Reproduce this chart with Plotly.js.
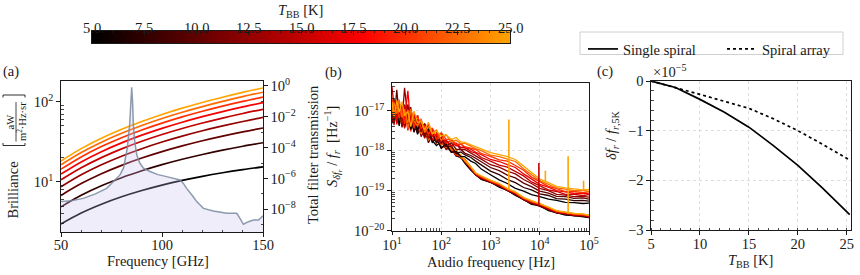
<!DOCTYPE html>
<html><head><meta charset="utf-8">
<script src="https://cdn.plot.ly/plotly-3.0.1.min.js"></script>
<style>html,body{margin:0;padding:0;background:#fff;}#plot{width:860px;height:275px;}</style>
</head><body><div id="plot"></div>
<script>
// ---------------- DATA ----------------
const temperaturesK = [5, 7.5, 10, 12.5, 15, 17.5, 20, 22.5, 25];
const cbTicks = [5, 7.5, 10, 12.5, 15, 17.5, 20, 22.5, 25];
const cbTickText = ['5.0','7.5','10.0','12.5','15.0','17.5','20.0','22.5','25.0'];

// (a) brilliance [aW / (m^2 Hz sr)]
const bbFreqGHz = [50, 60, 70, 80, 90, 100, 110, 120, 130, 140, 150];
const bril_5K    = [2.99, 4.09, 5.27, 6.53, 7.82, 9.14, 10.46, 11.76, 13.03, 14.26, 15.44];
const bril_7p5K  = [4.88, 6.80, 8.94, 11.28, 13.78, 16.43, 19.19, 22.03, 24.93, 27.88, 30.84];
const bril_10K   = [6.79, 9.53, 12.65, 16.11, 19.87, 23.91, 28.18, 32.68, 37.35, 42.18, 47.14];
const bril_12p5K = [8.70, 12.28, 16.38, 20.97, 26.00, 31.46, 37.30, 43.48, 49.99, 56.77, 63.82];
const bril_15K   = [10.61, 15.03, 20.12, 25.85, 32.17, 39.06, 46.47, 54.37, 62.72, 71.51, 80.69];
const bril_17p5K = [12.52, 17.78, 23.87, 30.73, 38.35, 46.67, 55.66, 65.29, 75.53, 86.34, 97.65];
const bril_20K   = [14.44, 20.53, 27.61, 35.63, 44.54, 54.30, 64.88, 76.25, 88.39, 101.2, 114.7];
const bril_22p5K = [16.36, 23.30, 31.37, 40.53, 50.73, 61.95, 74.13, 87.23, 101.3, 116.1, 131.8];
const bril_25K   = [18.28, 26.05, 35.12, 45.42, 56.91, 69.59, 83.37, 98.24, 114.1, 131.1, 148.9];

// (a) total filter transmission (log10)
const filterFreqGHz = [50, 55, 61, 67, 72.6, 76, 79.2, 81, 82.8, 84, 84.6, 85, 85.5, 85.8, 86.5, 87.5, 89, 90.8, 94.1, 98,
  102.3, 106, 108.9, 110.5, 112.2, 115, 117.2, 120.5, 125.4, 132, 137, 138.6, 140.3, 142.8, 145.3, 147.8, 150];
const filterLog10 = [-7.5, -7.45, -7.29, -7.0, -6.64, -6.2, -5.77, -5.3, -4.04, -2.5, -1.42, -0.08, -1.2, -2.51, -3.6, -4.47, -5.0, -5.33, -5.55, -5.75,
  -5.88, -6.0, -6.1, -6.3, -6.64, -7.1, -7.5, -7.94, -8.11, -8.26, -8.26, -8.58, -8.97, -8.8, -8.7, -8.7, -8.42];

// (b) fractional frequency noise, log10 [Hz^-1]
const audioFreqHz = [10, 11, 12.5, 14, 16, 18, 21, 24, 28, 33, 39, 46, 55, 66, 80, 100, 125, 160, 200, 250, 300,
  400, 500, 650, 1000, 1500, 2200, 3200, 4700, 6800, 10000, 15000, 22000, 33000, 50000, 75000, 100000];
const upper_5K = [-16.76,-17.21,-16.96,-17.38,-16.84,-17.26,-16.99,-17.47,-17.23,-17.49,-17.25,-17.56,-17.47,-17.79,-17.69,-17.94,-17.84,-18.04,-18.02,-18.15,-18.15,
  -18.26,-18.32,-18.46,-18.60,-18.73,-18.82,-18.94,-19.01,-19.10,-19.15,-19.21,-19.24,-19.29,-19.30,-19.32,-19.31];
const upper_7p5K = [-17.13,-16.71,-17.24,-16.94,-17.15,-16.85,-17.33,-17.12,-17.54,-17.21,-17.45,-17.32,-17.69,-17.58,-17.79,-17.67,-17.90,-17.88,-18.07,-18.03,-18.10,
  -18.17,-18.26,-18.35,-18.51,-18.60,-18.72,-18.80,-18.92,-18.98,-19.08,-19.12,-19.20,-19.21,-19.25,-19.24,-19.26];
const upper_10K = [-16.88,-17.27,-16.48,-17.14,-16.90,-17.35,-16.84,-17.32,-17.05,-17.42,-17.32,-17.65,-17.50,-17.51,-17.80,-17.72,-17.89,-17.80,-17.96,-17.97,-18.06,
  -18.12,-18.19,-18.28,-18.42,-18.50,-18.61,-18.68,-18.81,-18.90,-19.01,-19.06,-19.14,-19.15,-19.19,-19.18,-19.21];
const upper_12p5K = [-17.22,-16.86,-17.06,-16.79,-17.27,-16.43,-17.21,-16.91,-17.42,-17.26,-17.54,-17.33,-17.60,-17.45,-17.70,-17.82,-17.74,-17.87,-17.83,-17.97,-17.97,
  -18.05,-18.13,-18.21,-18.35,-18.41,-18.51,-18.58,-18.72,-18.82,-18.94,-19.00,-19.09,-19.11,-19.15,-19.14,-19.16];
const upper_15K = [-16.40,-16.91,-17.23,-16.87,-17.32,-16.87,-17.17,-17.02,-17.35,-17.11,-17.49,-17.38,-17.69,-17.51,-17.53,-17.76,-17.73,-17.89,-17.81,-17.92,-17.92,
  -18.02,-18.06,-18.17,-18.26,-18.36,-18.41,-18.51,-18.63,-18.78,-18.87,-18.98,-19.02,-19.09,-19.09,-19.12,-19.10];
const upper_17p5K = [-17.02,-16.75,-17.25,-16.95,-16.89,-17.25,-16.50,-17.37,-17.10,-17.34,-17.24,-17.53,-17.34,-17.64,-17.58,-17.59,-17.81,-17.74,-17.88,-17.83,-17.93,
  -17.96,-18.04,-18.10,-18.22,-18.27,-18.35,-18.42,-18.58,-18.70,-18.84,-18.91,-19.00,-19.03,-19.07,-19.06,-19.08];
const upper_20K = [-16.65,-17.07,-16.82,-17.18,-16.94,-17.33,-16.97,-17.09,-17.42,-17.11,-17.43,-17.38,-17.59,-17.43,-17.72,-17.55,-17.71,-17.72,-17.84,-17.83,-17.90,
  -17.93,-17.97,-18.07,-18.14,-18.23,-18.26,-18.37,-18.49,-18.66,-18.78,-18.89,-18.95,-19.02,-19.02,-19.05,-19.03];
const upper_22p5K = [-17.12,-16.79,-17.08,-16.72,-17.17,-16.96,-17.32,-16.96,-17.26,-17.38,-17.20,-17.55,-17.40,-17.56,-17.48,-17.74,-17.60,-17.78,-17.74,-17.82,-17.81,
  -17.89,-17.95,-18.00,-18.11,-18.15,-18.21,-18.27,-18.45,-18.59,-18.75,-18.84,-18.93,-18.96,-19.00,-18.99,-19.02];
const upper_25K = [-16.78,-17.17,-16.74,-17.04,-16.77,-17.13,-17.01,-17.40,-17.01,-17.29,-17.27,-17.48,-17.29,-17.58,-17.51,-17.63,-17.60,-17.72,-17.67,-17.78,-17.79,
  -17.85,-17.91,-17.96,-18.05,-18.10,-18.15,-18.22,-18.39,-18.55,-18.71,-18.80,-18.89,-18.93,-18.96,-18.98,-18.97];
const lower_5K = [-17.24,-17.15,-16.87,-17.29,-16.90,-17.41,-17.17,-17.44,-17.23,-17.59,-17.37,-17.62,-17.45,-17.75,-17.87,-17.77,-17.93,-17.91,-18.13,-18.17,-18.31,
  -18.49,-18.60,-18.72,-18.79,-18.91,-18.99,-19.12,-19.22,-19.34,-19.37,-19.50,-19.55,-19.61,-19.62,-19.66,-19.67];
const lower_7p5K = [-17.32,-16.96,-17.25,-16.95,-17.25,-16.92,-17.34,-17.34,-17.13,-17.56,-17.40,-17.59,-17.52,-17.79,-17.62,-17.91,-17.88,-18.01,-18.02,-18.18,-18.24,
  -18.46,-18.61,-18.70,-18.80,-18.88,-19.00,-19.09,-19.23,-19.31,-19.38,-19.47,-19.56,-19.58,-19.63,-19.63,-19.67];
const lower_10K = [-17.17,-16.84,-17.31,-17.07,-17.40,-17.10,-17.28,-17.01,-17.52,-17.36,-17.54,-17.47,-17.80,-17.60,-17.79,-17.79,-17.94,-17.95,-18.13,-18.16,-18.28,
  -18.47,-18.59,-18.71,-18.78,-18.89,-18.98,-19.10,-19.21,-19.33,-19.36,-19.48,-19.54,-19.59,-19.61,-19.64,-19.65];
const lower_12p5K = [-17.28,-16.89,-17.18,-16.82,-17.42,-17.06,-17.39,-17.03,-17.39,-17.25,-17.65,-17.48,-17.71,-17.53,-17.80,-17.72,-17.97,-17.92,-18.09,-18.12,-18.27,
  -18.45,-18.60,-18.68,-18.79,-18.87,-18.99,-19.08,-19.22,-19.30,-19.37,-19.46,-19.55,-19.57,-19.62,-19.62,-19.66];
const lower_15K = [-16.88,-17.36,-16.87,-17.23,-17.08,-17.44,-17.02,-17.35,-17.05,-17.50,-17.42,-17.69,-17.46,-17.71,-17.66,-17.94,-17.85,-18.02,-17.97,-18.17,-18.24,
  -18.44,-18.59,-18.66,-18.78,-18.86,-18.98,-19.06,-19.21,-19.29,-19.35,-19.45,-19.54,-19.56,-19.61,-19.61,-19.65];
const lower_17p5K = [-17.11,-16.78,-17.34,-17.01,-17.31,-16.92,-17.49,-17.13,-17.52,-17.27,-17.53,-17.34,-17.63,-17.74,-17.60,-17.84,-17.81,-18.04,-18.02,-18.17,-18.22,
  -18.43,-18.58,-18.67,-18.76,-18.85,-18.97,-19.06,-19.19,-19.28,-19.34,-19.44,-19.52,-19.56,-19.59,-19.61,-19.63];
const lower_20K = [-16.75,-17.17,-17.01,-17.34,-16.92,-17.31,-17.10,-17.52,-17.13,-17.41,-17.29,-17.64,-17.51,-17.78,-17.67,-17.70,-17.92,-17.93,-18.11,-18.11,-18.25,
  -18.42,-18.57,-18.65,-18.75,-18.84,-18.96,-19.05,-19.18,-19.27,-19.33,-19.43,-19.51,-19.55,-19.58,-19.60,-19.62];
const lower_22p5K = [-16.92,-17.25,-16.79,-17.15,-17.27,-16.97,-17.45,-17.03,-17.42,-17.30,-17.56,-17.41,-17.74,-17.55,-17.74,-17.85,-17.77,-17.98,-17.97,-18.17,-18.21,
  -18.41,-18.56,-18.64,-18.75,-18.83,-18.95,-19.04,-19.18,-19.26,-19.32,-19.42,-19.51,-19.54,-19.58,-19.59,-19.62];
const lower_25K = [-16.79,-17.18,-16.93,-17.35,-16.96,-17.23,-16.93,-17.41,-17.23,-17.23,-17.57,-17.36,-17.65,-17.59,-17.79,-17.65,-17.92,-17.87,-18.04,-18.10,-18.25,
  -18.40,-18.56,-18.63,-18.74,-18.82,-18.95,-19.03,-19.17,-19.25,-19.32,-19.41,-19.50,-19.53,-19.57,-19.58,-19.61];
// narrow spectral lines (log10 bottom/top), with the temperature whose colour they carry
const spikeFreqHz = [2360, 9600, 13000, 37700, 77600];
const spikeLowLog10 = [-18.97, -19.38, -18.80, -19.58, -18.97];
const spikeHighLog10 = [-17.22, -18.31, -18.50, -18.14, -18.75];
const spikeTempK = [25, 15, 25, 25, 25];

// (c) relative frequency shift (units of 1e-5)
const shiftTempK = [5, 7.5, 10, 12.5, 15, 17.5, 20, 22.5, 25.3];
const shiftSingle = [0, -0.13, -0.37, -0.63, -0.93, -1.30, -1.70, -2.15, -2.69];
const shiftArray  = [0, -0.13, -0.27, -0.41, -0.55, -0.76, -1.00, -1.27, -1.59];

// ---------------- STYLE ----------------
const F = 'Liberation Serif';
const FS = 14.5;
const INK = '#1a1a1a';
const W = 860, H = 275;
const px = v => v / W;
const py = v => 1 - v / H;
const cscale = [[0, 'rgb(0,0,0)'], [0.65, 'rgb(255,0,0)'], [1, 'rgb(255,165,0)']];
function tempColor(T) {
  const t = Math.max(0, Math.min(1, (T - 5) / 20));
  const s = [[0, [0,0,0]], [0.65, [255,0,0]], [1, [255,165,0]]];
  for (let i = 0; i < s.length - 1; i++) {
    if (t <= s[i+1][0]) {
      const f = (t - s[i][0]) / (s[i+1][0] - s[i][0]);
      const c = s[i][1].map((v, k) => Math.round(v + f * (s[i+1][1][k] - v)));
      return `rgb(${c[0]},${c[1]},${c[2]})`;
    }
  }
  return 'rgb(255,165,0)';
}
const pow10 = a => a.map(v => Math.pow(10, v));
function logMinor(d0, d1) { const r = []; for (let d = d0; d <= d1; d++) for (let m = 2; m <= 9; m++) r.push(m * Math.pow(10, d)); return r; }

const brilSeries = [bril_5K, bril_7p5K, bril_10K, bril_12p5K, bril_15K, bril_17p5K, bril_20K, bril_22p5K, bril_25K];
const upperSeries = [upper_5K, upper_7p5K, upper_10K, upper_12p5K, upper_15K, upper_17p5K, upper_20K, upper_22p5K, upper_25K];
const lowerSeries = [lower_5K, lower_7p5K, lower_10K, lower_12p5K, lower_15K, lower_17p5K, lower_20K, lower_22p5K, lower_25K];

const traces = [];
brilSeries.forEach((s, i) => traces.push({
  x: bbFreqGHz, y: s, xaxis: 'x', yaxis: 'y', mode: 'lines', line: {color: tempColor(temperaturesK[i]), width: 1.7, shape: 'spline'},
  showlegend: false, hoverinfo: 'skip'
}));
traces.push({x: filterFreqGHz, y: filterFreqGHz.map(() => 1e-12), xaxis: 'x', yaxis: 'y2', mode: 'lines', line: {width: 0, color: 'rgba(0,0,0,0)'}, showlegend: false, hoverinfo: 'skip'});
traces.push({x: filterFreqGHz, y: pow10(filterLog10), xaxis: 'x', yaxis: 'y2', mode: 'lines', fill: 'tonexty', fillcolor: 'rgba(200,190,240,0.28)',
  line: {color: 'rgba(120,138,158,0.85)', width: 1.5}, showlegend: false, hoverinfo: 'skip'});
lowerSeries.forEach((s, i) => traces.push({
  x: audioFreqHz, y: pow10(s), xaxis: 'x2', yaxis: 'y3', mode: 'lines', line: {color: tempColor(temperaturesK[i]), width: 1.3},
  showlegend: false, hoverinfo: 'skip'
}));
upperSeries.forEach((s, i) => traces.push({
  x: audioFreqHz, y: pow10(s), xaxis: 'x2', yaxis: 'y3', mode: 'lines', line: {color: tempColor(temperaturesK[i]), width: 1.3},
  showlegend: false, hoverinfo: 'skip'
}));
spikeFreqHz.forEach((f, i) => traces.push({
  x: [f, f], y: [Math.pow(10, spikeLowLog10[i]), Math.pow(10, spikeHighLog10[i])], xaxis: 'x2', yaxis: 'y3', mode: 'lines',
  line: {color: tempColor(spikeTempK[i]), width: 1.6}, showlegend: false, hoverinfo: 'skip'
}));
traces.push({x: shiftTempK, y: shiftSingle, xaxis: 'x3', yaxis: 'y4', mode: 'lines', name: 'Single spiral', legend: 'legend',
  line: {color: '#000', width: 1.7}});
traces.push({x: shiftTempK, y: shiftArray, xaxis: 'x3', yaxis: 'y4', mode: 'lines', name: 'Spiral array', legend: 'legend2',
  line: {color: '#000', width: 1.7, dash: 'dot'}});
traces.push({type: 'heatmap', x: temperaturesK, y: [0, 1], z: [temperaturesK, temperaturesK], zsmooth: 'best', colorscale: cscale,
  zmin: 5, zmax: 25, showscale: false, xaxis: 'x4', yaxis: 'y5', hoverinfo: 'skip'});

function ax(extra) {
  return Object.assign({showline: true, linecolor: INK, linewidth: 1.2, mirror: true, ticks: 'outside', ticklen: 3.5, tickwidth: 1,
    tickcolor: INK, showgrid: false, zeroline: false, tickfont: {family: F, size: FS, color: INK}, fixedrange: true}, extra);
}
const grid = {showgrid: true, gridcolor: '#d4d4d4', gridwidth: 0.8, griddash: 'dot'};
const minorStyle = {ticks: 'inside', ticklen: 2.5, tickwidth: 0.8, tickcolor: INK};
const legendStyle = {orientation: 'h', xanchor: 'left', yanchor: 'top', bgcolor: 'rgba(0,0,0,0)', borderwidth: 0,
  font: {family: F, size: FS, color: INK}, itemwidth: 30};

const layout = {
  width: W, height: H, margin: {l: 0, r: 0, t: 0, b: 0, pad: 0},
  paper_bgcolor: '#fff', plot_bgcolor: 'rgba(0,0,0,0)', font: {family: F, size: FS, color: INK},
  xaxis: ax({domain: [px(61), px(263)], anchor: 'y', range: [50, 150], tickmode: 'array', tickvals: [50, 100, 150], ticklabelstandoff: -4,
    minor: Object.assign({tickmode: 'array', tickvals: [60, 70, 80, 90, 110, 120, 130, 140]}, minorStyle)}),
  yaxis: ax({domain: [py(232), py(81)], anchor: 'x', type: 'log', range: [0.375, 2.26], tickmode: 'array', tickvals: [10, 100],
    ticktext: ['10<sup>1</sup>', '10<sup>2</sup>'], minor: Object.assign({tickmode: 'array', tickvals: logMinor(0, 1)}, minorStyle)}),
  yaxis2: ax({overlaying: 'y', side: 'right', anchor: 'x', type: 'log', range: [-9.47, 0.32], mirror: false, tickmode: 'array',
    tickvals: [1, 1e-2, 1e-4, 1e-6, 1e-8], ticktext: ['10<sup>0</sup>', '10<sup>−2</sup>', '10<sup>−4</sup>', '10<sup>−6</sup>', '10<sup>−8</sup>'],
    minor: Object.assign({tickmode: 'array', tickvals: [1e-1, 1e-3, 1e-5, 1e-7, 1e-9]}, minorStyle)}),
  xaxis2: ax(Object.assign({domain: [px(392), px(589)], anchor: 'y3', type: 'log', range: [1, 5], tickmode: 'array', ticklabelstandoff: -3,
    tickvals: [10, 100, 1e3, 1e4, 1e5], ticktext: ['10<sup>1</sup>', '10<sup>2</sup>', '10<sup>3</sup>', '10<sup>4</sup>', '10<sup>5</sup>'],
    minor: Object.assign({tickmode: 'array', tickvals: logMinor(1, 4)}, minorStyle)}, grid)),
  yaxis3: ax(Object.assign({domain: [py(230.7), py(82.7)], anchor: 'x2', type: 'log', range: [-20, -16.3], tickmode: 'array',
    tickvals: [1e-20, 1e-19, 1e-18, 1e-17], ticktext: ['10<sup>−20</sup>', '10<sup>−19</sup>', '10<sup>−18</sup>', '10<sup>−17</sup>'],
    minor: Object.assign({tickmode: 'array', tickvals: logMinor(-20, -17)}, minorStyle)}, grid)),
  xaxis3: ax(Object.assign({domain: [px(651), px(850.7)], anchor: 'y4', range: [5, 25.4], tickmode: 'array', tickvals: [5, 10, 15, 20, 25],
    ticklabelstandoff: -3, minor: Object.assign({tick0: 5, dtick: 1}, minorStyle)}, grid)),
  yaxis4: ax(Object.assign({domain: [py(230), py(81)], anchor: 'x3', range: [-3, 0], tickmode: 'array', tickvals: [0, -1, -2, -3],
    ticktext: ['0', '−1', '−2', '−3'], minor: Object.assign({tick0: 0, dtick: 0.2}, minorStyle)}, grid)),
  xaxis4: ax({domain: [px(92), px(510)], anchor: 'y5', side: 'top', range: [5, 25], tickmode: 'array', tickvals: cbTicks,
    showticklabels: false, ticks: 'inside', ticklen: 4, linewidth: 1,
    minor: {tick0: 5, dtick: 0.5, ticks: 'inside', ticklen: 2, tickwidth: 0.8, tickcolor: INK}}),
  yaxis5: ax({domain: [py(43.3), py(31)], anchor: 'x4', range: [0, 1], ticks: '', showticklabels: false, linewidth: 1}),
  showlegend: true,
  legend: Object.assign({x: px(583), y: py(33)}, legendStyle),
  legend2: Object.assign({x: px(722), y: py(33)}, legendStyle),
  annotations: [],
  shapes: []
};

function ann(text, x, y, opts) {
  layout.annotations.push(Object.assign({text: text, x: px(x), y: py(y), xref: 'paper', yref: 'paper', showarrow: false,
    xanchor: 'center', yanchor: 'middle', font: {family: F, size: FS, color: INK}}, opts || {}));
}
cbTicks.forEach((v, i) => layout.annotations.push({text: cbTickText[i], x: v, xref: 'x4', y: py(28), yref: 'paper', showarrow: false,
  xanchor: 'center', yanchor: 'middle', font: {family: F, size: FS, color: INK}}));
ann('(a)', 11, 71);
ann('(b)', 333, 72);
ann('(c)', 605, 71);
ann('×10<sup>−5</sup>', 651, 71, {xanchor: 'left'});
ann('<i>T</i><sub>BB</sub> [K]', 300, 10.5);
ann('Frequency [GHz]', 158, 261);
ann('Audio frequency [Hz]', 491, 262);
ann('<i>T</i><sub>BB</sub> [K]', 750, 261);
ann('Brilliance', 12.5, 190, {textangle: -90});
ann('aW', 10.8, 121.7, {textangle: -90, font: {family: F, size: 10.5, color: INK}});
ann('m<sup>2</sup>·Hz·sr', 21.3, 121.7, {textangle: -90, font: {family: F, size: 10.5, color: INK}});
ann('Total filter transmission', 313, 155, {textangle: -90});
ann('<i>S</i><sub><i>δf</i><sub><i>r</i></sub></sub> / <i>f</i><sub><i>r</i></sub>  [Hz<sup>−1</sup>]', 333, 147, {textangle: -90});
ann('<i>δf</i><sub><i>r</i></sub> / <i>f</i><sub><i>r</i>,5K</sub>', 612, 135, {textangle: -90});

const P = (x, y) => `${px(x)},${py(y)}`;
layout.shapes.push({type: 'line', xref: 'paper', yref: 'paper', x0: px(16), x1: px(16), y0: py(102), y1: py(141.5), line: {color: INK, width: 0.8}});
layout.shapes.push({type: 'path', xref: 'paper', yref: 'paper', path: `M${P(3, 143)}L${P(3, 145.5)}L${P(25, 145.5)}L${P(25, 143)}`, line: {color: INK, width: 0.9}});
layout.shapes.push({type: 'path', xref: 'paper', yref: 'paper', path: `M${P(3, 97.5)}L${P(3, 95)}L${P(25, 95)}L${P(25, 97.5)}`, line: {color: INK, width: 0.9}});
layout.shapes.push({type: 'rect', xref: 'paper', yref: 'paper', x0: px(580), x1: px(843), y0: py(32), y1: py(54.5), line: {color: '#d0d0d0', width: 1}, fillcolor: 'rgba(0,0,0,0)'});

Plotly.newPlot('plot', traces, layout, {displayModeBar: false, staticPlot: true});
</script>
</body></html>
